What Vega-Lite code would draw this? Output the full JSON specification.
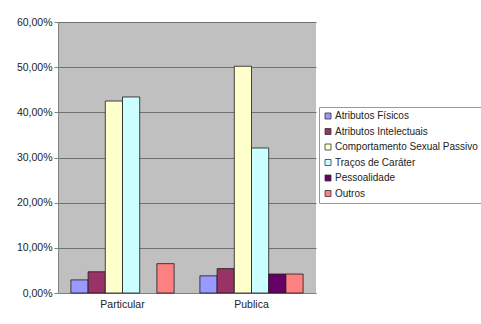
{
  "$schema": "https://vega.github.io/schema/vega-lite/v6.json",
  "width": 258,
  "height": 271,
  "autosize": {"type": "none"},
  "padding": {"left": 58, "top": 22, "right": 165, "bottom": 31},
  "background": "white",
  "data": {
    "values": [
      {"grupo": "Particular", "categoria": "Atributos Físicos", "valor": 0.029},
      {"grupo": "Particular", "categoria": "Atributos Intelectuais", "valor": 0.047},
      {"grupo": "Particular", "categoria": "Comportamento Sexual Passivo", "valor": 0.425},
      {"grupo": "Particular", "categoria": "Traços de Caráter", "valor": 0.434},
      {"grupo": "Particular", "categoria": "Outros", "valor": 0.065},
      {"grupo": "Publica", "categoria": "Atributos Físicos", "valor": 0.038},
      {"grupo": "Publica", "categoria": "Atributos Intelectuais", "valor": 0.054},
      {"grupo": "Publica", "categoria": "Comportamento Sexual Passivo", "valor": 0.502},
      {"grupo": "Publica", "categoria": "Traços de Caráter", "valor": 0.321},
      {"grupo": "Publica", "categoria": "Pessoalidade", "valor": 0.042},
      {"grupo": "Publica", "categoria": "Outros", "valor": 0.042}
    ]
  },
  "mark": {"type": "bar", "stroke": "#1a1a1a", "strokeWidth": 0.8},
  "encoding": {
    "x": {
      "field": "grupo",
      "type": "nominal",
      "scale": {"paddingInner": 0.2, "paddingOuter": 0.1},
      "axis": {
        "title": null,
        "labelAngle": 0,
        "labelFont": "Liberation Sans",
        "labelFontSize": 10.5,
        "labelColor": "#222222",
        "labelPadding": 6,
        "domainColor": "#808080",
        "ticks": false
      }
    },
    "xOffset": {
      "field": "categoria",
      "type": "nominal",
      "sort": ["Atributos Físicos", "Atributos Intelectuais", "Comportamento Sexual Passivo", "Traços de Caráter", "Pessoalidade", "Outros"],
      "scale": {"paddingInner": 0, "paddingOuter": 0}
    },
    "y": {
      "field": "valor",
      "type": "quantitative",
      "scale": {"domain": [0, 0.6], "nice": false},
      "axis": {
        "title": null,
        "values": [0, 0.1, 0.2, 0.3, 0.4, 0.5, 0.6],
        "labelExpr": "replace(format(datum.value, '.2%'), '.', ',')",
        "labelFont": "Liberation Sans",
        "labelFontSize": 10.5,
        "labelColor": "#222222",
        "grid": true,
        "gridColor": "#707070",
        "gridWidth": 1,
        "domainColor": "#808080",
        "tickColor": "#808080",
        "tickSize": 4,
        "labelPadding": 2
      }
    },
    "color": {
      "field": "categoria",
      "type": "nominal",
      "sort": ["Atributos Físicos", "Atributos Intelectuais", "Comportamento Sexual Passivo", "Traços de Caráter", "Pessoalidade", "Outros"],
      "scale": {
        "domain": ["Atributos Físicos", "Atributos Intelectuais", "Comportamento Sexual Passivo", "Traços de Caráter", "Pessoalidade", "Outros"],
        "range": ["#9999FF", "#993366", "#FFFFCC", "#CCFFFF", "#660066", "#FF8080"]
      },
      "legend": {
        "title": null,
        "orient": "none",
        "legendX": 261,
        "legendY": 85,
        "labelFont": "Liberation Sans",
        "labelFontSize": 10,
        "labelColor": "#222222",
        "labelOffset": 2,
        "symbolType": "square",
        "symbolSize": 36,
        "symbolStrokeColor": "#333333",
        "symbolStrokeWidth": 0.8,
        "rowPadding": 5.5,
        "padding": 4,
        "strokeColor": "#999999",
        "fillColor": "white",
        "labelLimit": 300
      }
    }
  },
  "config": {
    "view": {"fill": "#C0C0C0", "stroke": null}
  }
}
